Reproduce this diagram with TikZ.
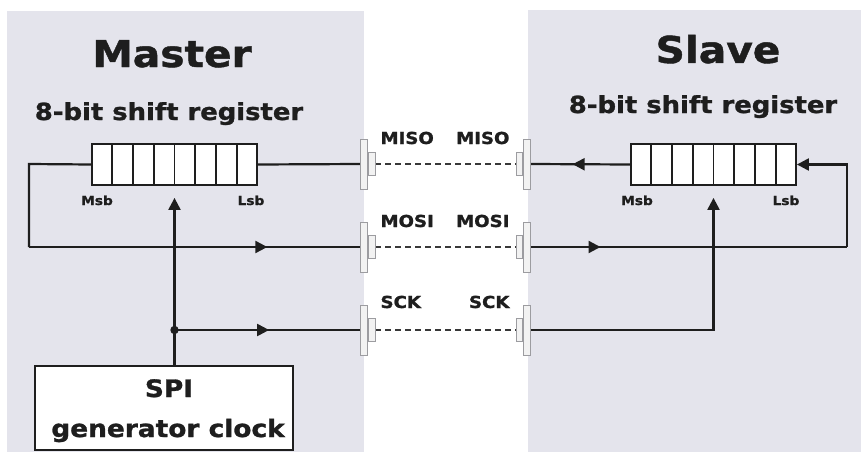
\documentclass[tikz,border=0pt]{standalone}
\usepackage{fontspec}
\setmainfont{DejaVu Sans}[FakeStretch=1.1,BoldFeatures={FakeBold=1.2}]
\usetikzlibrary{arrows.meta,decorations.markings,calc}

\definecolor{panelgray}{HTML}{E4E4EC}
\definecolor{wirecol}{HTML}{1E1E1E}
\definecolor{connfill}{HTML}{F2F2F2}
\definecolor{connline}{HTML}{9C9CA0}
\definecolor{buscol}{HTML}{383838}

\tikzset{
  tip/.tip={Triangle[length=12pt,width=12pt]},
  panel/.style={fill=panelgray,draw=none},
  wire/.style={line width=2.2pt,draw=wirecol},
  bus/.style={line width=2.2pt,draw=buscol,dash pattern=on 6pt off 4pt},
  arrowat/.style={postaction={decorate},
    decoration={markings,mark=at position #1 with {\arrow{tip}}}},
  regbox/.style={draw=wirecol,fill=white,line width=1.8pt,inner sep=0pt,
    minimum width=165pt,minimum height=41pt},
  pinbody/.style={draw=connline,fill=connfill,line width=1pt,inner sep=0pt,
    minimum width=7pt,minimum height=50pt},
  pinbump/.style={draw=connline,fill=connfill,line width=1pt,inner sep=0pt,
    minimum width=6.5pt,minimum height=23pt},
  title/.style={font=\bfseries\fontsize{37}{37}\selectfont,anchor=base,text=wirecol},
  sub/.style={font=\bfseries\fontsize{23.5}{23.5}\selectfont,anchor=base,text=wirecol},
  bitlbl/.style={font=\bfseries\fontsize{12.5}{12.5}\selectfont,anchor=base,text=wirecol},
  sig/.style={font=\bfseries\fontsize{16.5}{16.5}\selectfont,text=wirecol},
  clk/.style={font=\bfseries\fontsize{24}{24}\selectfont,anchor=base,text=wirecol},
}

\begin{document}
\begin{tikzpicture}[x=1pt,y=-1pt]
% canvas and the two device panels
\fill[white] (0,0) rectangle (861,452);
\useasboundingbox (0,0) rectangle (861,452);
\fill[panel] (7,11) rectangle (364,452);
\fill[panel] (528,10) rectangle (861,452);

% titles
\node[title] (mtitle) at (172,67) {Master};
\node[title] (stitle) at (718,63) {Slave};
\node[sub] (msub) at (169,120) {8-bit shift register};
\node[sub] (ssub) at (703,113) {8-bit shift register};

% shift registers
\node[regbox] (mreg) at (174.5,164.5) {};
\node[regbox] (sreg) at (713.5,164.5) {};
\foreach \r in {mreg,sreg}{
  \foreach \i in {1,...,7}{
    \draw[wirecol,line width=1.8pt]
      ($(\r.north west)!\i/8!(\r.north east)$) -- ($(\r.south west)!\i/8!(\r.south east)$);
  }
}
\node[bitlbl] (mmsb) at (97,205) {Msb};
\node[bitlbl] (mlsb) at (251,205) {Lsb};
\node[bitlbl] (smsb) at (637,205) {Msb};
\node[bitlbl] (slsb) at (786,205) {Lsb};

% clock generator
\node[draw=wirecol,fill=white,line width=2.2pt,minimum width=258pt,minimum height=84pt,inner sep=0pt]
  (spi) at (164,408) {};
\node[clk] (spit) at (169,397) {SPI};
\node[clk] (gent) at (168,437) {generator clock};

% connector pins: bodies
\node[pinbody] (lmiso) at (364,164) {};
\node[pinbody] (lmosi) at (364,247) {};
\node[pinbody] (lsck)  at (364,330) {};
\node[pinbody] (rmiso) at (527,164) {};
\node[pinbody] (rmosi) at (527,247) {};
\node[pinbody] (rsck)  at (527,330) {};

% routing corners
\coordinate (mlt) at (29,164);
\coordinate (mlb) at (29,247);
\coordinate (slb) at (847,247);
\coordinate (dot) at (mreg.south |- lsck);

% master side wires
\draw[wire] (mreg.east) -- (lmiso.west);
\draw[wire] (mreg.west) -- (mlt) -- (mlb);
\draw[wire,arrowat=0.72] (mlb) -- (lmosi.west);
\draw[wire,-tip,shorten >=12pt] (spi.north -| mreg.south) -- (mreg.south);
\draw[wire,arrowat=0.51] (dot) -- (lsck.west);
\fill[wirecol] (dot) circle (4.2pt);

% slave side wires
\draw[wire,arrowat=0.58] (sreg.west) -- (rmiso.east);
\draw[wire,arrowat=0.22] (rmosi.east) -- (slb);
\draw[wire,-tip] (slb) |- (sreg.east);
\draw[wire,-tip,shorten >=12pt] (rsck.east) -| (sreg.south);

% bus between the devices
\draw[bus] (lmiso.east) ++(7,0) -- ($(rmiso.west)+(-7,0)$);
\draw[bus] (lmosi.east) ++(7,0) -- ($(rmosi.west)+(-7,0)$);
\draw[bus] (lsck.east)  ++(7,0) -- ($(rsck.west)+(-7,0)$);

% connector pins: redraw bodies on top, add bumps
\foreach \p in {lmiso,lmosi,lsck}{
  \node[pinbump,anchor=west] at (\p.east) {};
  \node[pinbody] at (\p) {};
}
\foreach \p in {rmiso,rmosi,rsck}{
  \node[pinbump,anchor=east] at (\p.west) {};
  \node[pinbody] at (\p) {};
}

% signal labels
\node[sig,anchor=base west] (lmisot) at (377,144) {MISO};
\node[sig,anchor=base west] (lmosit) at (377,227) {MOSI};
\node[sig,anchor=base west] (lsckt)  at (377,308) {SCK};
\node[sig,anchor=base east] (rmisot) at (513,144) {MISO};
\node[sig,anchor=base east] (rmosit) at (513,227) {MOSI};
\node[sig,anchor=base east] (rsckt)  at (513,308) {SCK};
\end{tikzpicture}
\end{document}
